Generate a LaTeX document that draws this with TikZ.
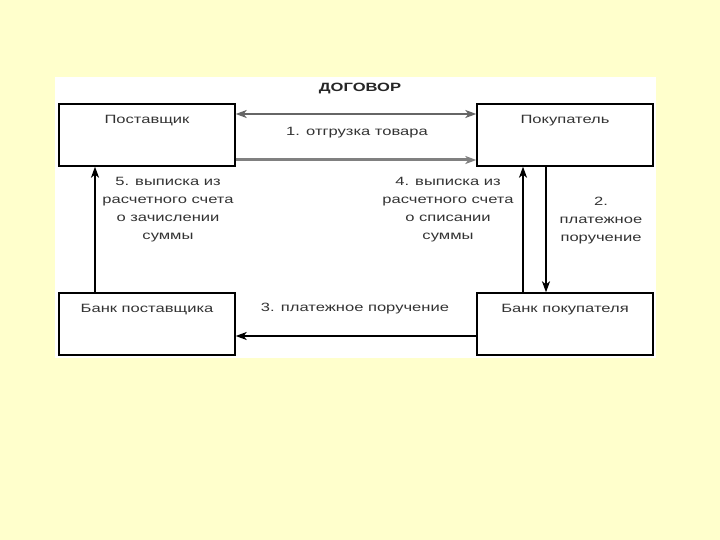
\documentclass[tikz,border=0pt]{standalone}
\usepackage{fontspec}
\setmainfont{Liberation Sans}
\newfontfamily\widefont[FakeStretch=1.38]{Liberation Sans}
\usetikzlibrary{arrows.meta}
\begin{document}
\begin{tikzpicture}[x=1pt,y=-1pt,
  box/.style={draw=black,line width=1.4pt,fill=white,minimum width=176pt,minimum height=62pt,inner sep=0pt},
  lbl/.style={font=\widefont\fontsize{12}{18}\selectfont,text=black!80,inner sep=0pt},
  ah/.style={Stealth[length=11pt,width=8pt,inset=3pt]},
  conn/.style={line width=1.6pt,-{Stealth[length=11pt,width=8pt,inset=3pt]}}]
\useasboundingbox (0,0) rectangle (720,540);
\fill[fill={rgb,255:red,255;green,255;blue,204}] (0,0) rectangle (720,540);
\fill[white] (55,77) rectangle (656,358);
\node[box] (sup) at (147,135) {};
\node[box] (buy) at (565,135) {};
\node[box] (bsup) at (147,324) {};
\node[box] (bbuy) at (565,324) {};
\node[lbl] at (147,121) {Поставщик};
\node[lbl] at (565,121) {Покупатель};
\node[lbl] at (147,310) {Банк поставщика};
\node[lbl] at (565,310) {Банк покупателя};
\node[font=\widefont\bfseries\fontsize{12}{14}\selectfont,text=black!85,inner sep=0pt] (dog) at (360,89) {ДОГОВОР};
\coordinate (a1) at (sup.east |- 0,114);
\coordinate (a2) at (buy.west |- 0,114);
\draw[line width=1.5pt,draw=black!60,{Stealth[length=11pt,width=8pt,inset=3pt]}-{Stealth[length=11pt,width=8pt,inset=3pt]}] (a1) -- (a2);
\node[lbl] (t1) at (357,133) {1. отгрузка товара};
\coordinate (b1) at (sup.east |- 0,160);
\coordinate (b2) at (buy.west |- 0,160);
\draw[line width=3pt,draw=black!50,-{Stealth[length=11pt,width=8pt,inset=3pt]}] (b1) -- (b2);
\coordinate (c1) at (bbuy.west |- 0,336);
\coordinate (c2) at (bsup.east |- 0,336);
\draw[conn] (c1) -- (c2);
\node[lbl] (t3) at (355,309) {3. платежное поручение};
\coordinate (d1) at (95,0);
\draw[conn] (bsup.north -| d1) -- (sup.south -| d1);
\coordinate (e1) at (523,0);
\draw[conn] (bbuy.north -| e1) -- (buy.south -| e1);
\coordinate (f1) at (546,0);
\draw[conn] (buy.south -| f1) -- (bbuy.north -| f1);
\node[lbl,align=center] (t5) at (168,210) {5. выписка из\\расчетного счета\\о зачислении\\суммы};
\node[lbl,align=center] (t4) at (448,210) {4. выписка из\\расчетного счета\\о списании\\суммы};
\node[lbl,align=center] (t2) at (601,221) {2.\\платежное\\поручение};
\end{tikzpicture}
\end{document}
